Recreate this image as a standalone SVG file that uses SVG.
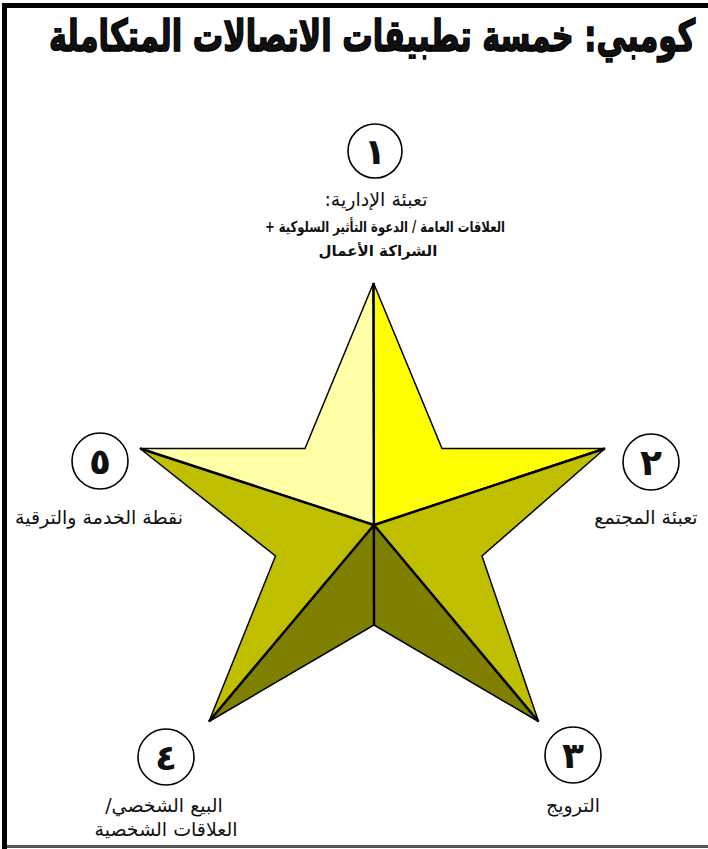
<svg xmlns="http://www.w3.org/2000/svg" width="708" height="849" viewBox="0 0 708 849">
<style>
.ar{font-family:"DejaVu Sans","Noto Sans",sans-serif;fill:#111;direction:rtl;unicode-bidi:embed;}
.lbl{font-size:19px;}
.sub{font-size:15px;font-weight:bold;}
.num{font-size:36px;font-weight:bold;text-anchor:middle;}
.ring{fill:#fff;stroke:#000;stroke-width:1.6;}
.face{stroke:#000;stroke-width:1.5;stroke-linejoin:miter;}
.edge{stroke:#000;stroke-width:2.5;fill:none;}
</style>
<rect x="0" y="0" width="708" height="849" fill="#fff"/>
<rect x="2" y="3" width="706" height="5" fill="#000"/>
<rect x="2" y="3" width="5" height="846" fill="#000"/>
<rect x="7" y="845" width="701" height="3" fill="#555"/>
<g id="title" transform="translate(372,51) scale(0.69,1)">
<text class="ar" x="0" y="0" text-anchor="middle" font-size="44" font-weight="bold" fill="#000" stroke="#000" stroke-width="1.6">كومبي: خمسة تطبيقات الاتصالات المتكاملة</text>
</g>
<g id="star">
<polygon class="face" fill="#FFFFA6" points="373.5,283 305,448.5 140,448.5 374,525"/>
<polygon class="face" fill="#FFFF00" points="373.5,283 442,448.5 605,448.5 374,525"/>
<polygon class="face" fill="#BFBF00" points="140,448.5 374,525 209,721.5 275.5,556"/>
<polygon class="face" fill="#BFBF00" points="605,448.5 374,525 538.5,721.5 482,556"/>
<polygon class="face" fill="#808000" points="374,525 209,721.5 374,625"/>
<polygon class="face" fill="#808000" points="374,525 538.5,721.5 374,625"/>
</g>
<g id="connectors">
<line class="edge" x1="373.5" y1="283" x2="374" y2="625"/>
<line class="edge" x1="140" y1="448.5" x2="374" y2="525"/>
<line class="edge" x1="605" y1="448.5" x2="374" y2="525"/>
<line class="edge" x1="209" y1="721.5" x2="374" y2="525"/>
<line class="edge" x1="538.5" y1="721.5" x2="374" y2="525"/>
</g>
<g id="node1">
<circle class="ring" cx="375" cy="151" r="27"/>
<text class="ar num" x="375" y="164">١</text>
<text class="ar lbl" x="376" y="206" text-anchor="middle">تعبئة الإدارية:</text>
<text class="ar sub" x="385" y="232" text-anchor="middle" textLength="240" lengthAdjust="spacingAndGlyphs">العلاقات العامة / الدعوة التأثير السلوكية +</text>
<text class="ar sub" x="378" y="256" text-anchor="middle">الشراكة الأعمال</text>
</g>
<g id="node2">
<circle class="ring" cx="651" cy="462" r="28"/>
<text class="ar num" x="651" y="475">٢</text>
<text class="ar lbl" x="646" y="524" text-anchor="middle">تعبئة المجتمع</text>
</g>
<g id="node3">
<circle class="ring" cx="573" cy="755" r="28"/>
<text class="ar num" x="573" y="768">٣</text>
<text class="ar lbl" x="573" y="812" text-anchor="middle">الترويج</text>
</g>
<g id="node4">
<circle class="ring" cx="166" cy="757" r="28"/>
<text class="ar num" x="166" y="770">٤</text>
<text class="ar lbl" x="164" y="812" text-anchor="middle">البيع الشخصي/</text>
<text class="ar lbl" x="166" y="836" text-anchor="middle">العلاقات الشخصية</text>
</g>
<g id="node5">
<circle class="ring" cx="100" cy="461" r="28"/>
<text class="ar num" x="100" y="474">٥</text>
<text class="ar lbl" x="99" y="524" text-anchor="middle">نقطة الخدمة والترقية</text>
</g>
</svg>
